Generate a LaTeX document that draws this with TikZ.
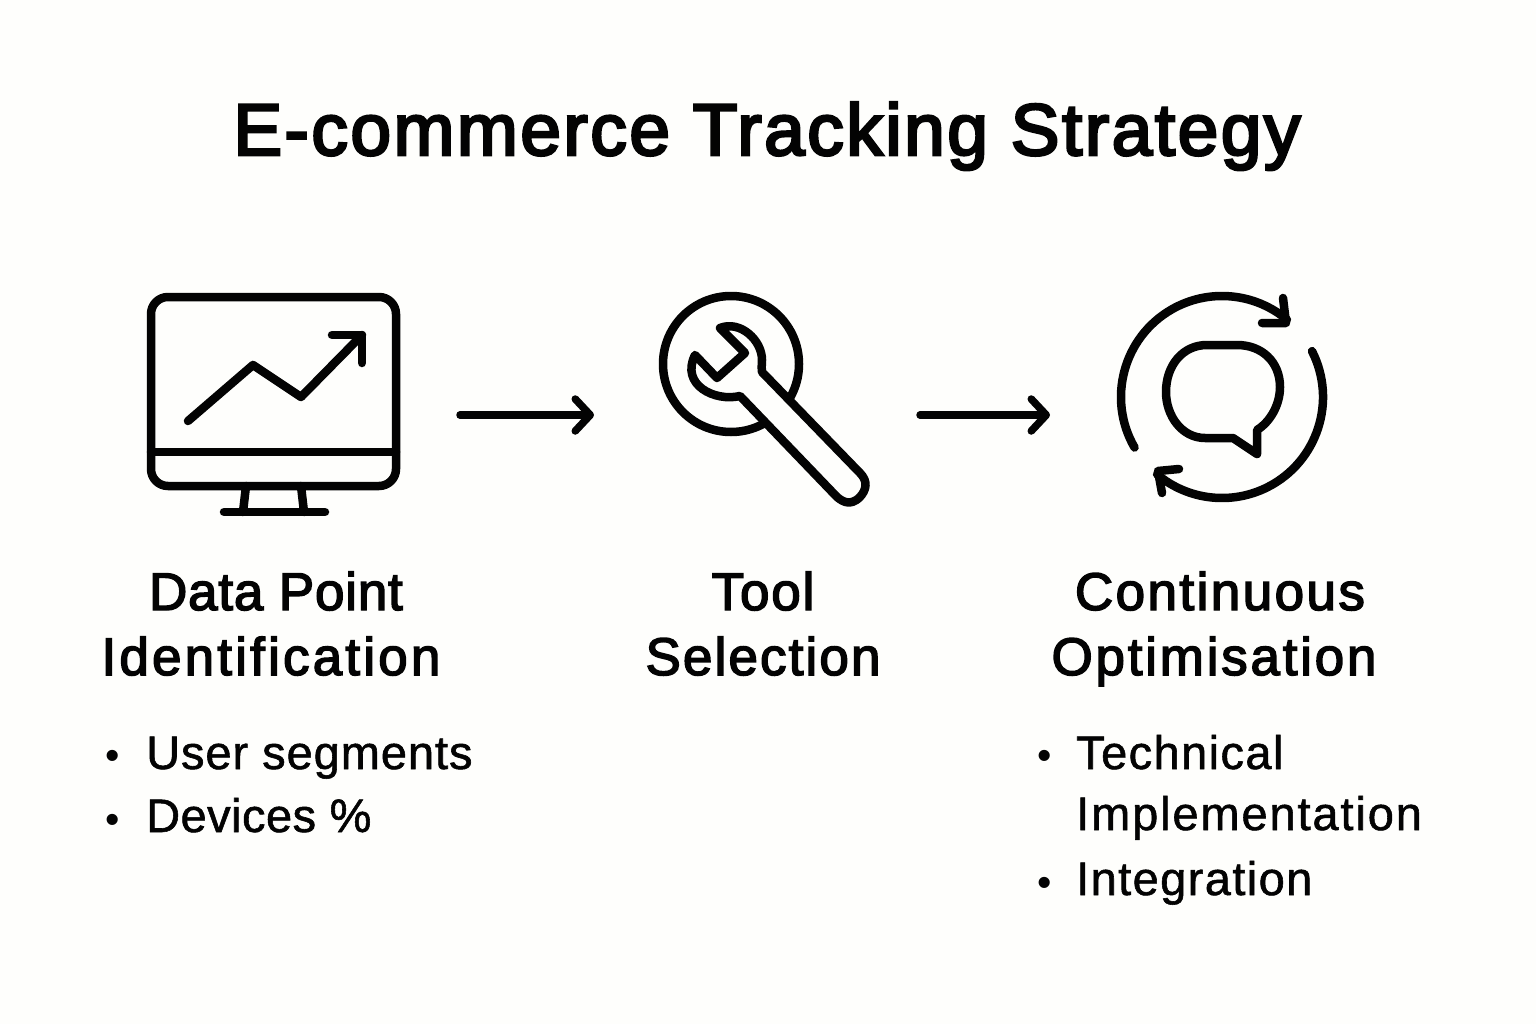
\documentclass[tikz,border=0pt]{standalone}
\usepackage{fontspec}
\usetikzlibrary{arrows.meta}
\setmainfont{Liberation Sans}
\newfontfamily\titlefont[FakeBold=3.6]{Liberation Sans}
\newfontfamily\headfont[FakeBold=2.8]{Liberation Sans}
\newfontfamily\bodyfont[FakeBold=1.2]{Liberation Sans}
\definecolor{bgc}{HTML}{FEFEFC}
\definecolor{ink}{HTML}{030303}
\tikzset{
  icon/.style={draw=ink,line width=8.5pt,line cap=round,line join=round},
  flowarrow/.style={draw=ink,line width=7.5pt,line cap=round,-{Straight Barb[length=15pt,width=32pt,round]}},
  titletext/.style={anchor=base,inner sep=0,text=ink,font=\titlefont\fontsize{73}{73}\selectfont},
  headtext/.style={anchor=base,inner sep=0,text=ink,font=\headfont\fontsize{53}{53}\selectfont},
  bodytext/.style={anchor=base west,inner sep=0,text=ink,font=\bodyfont\fontsize{47}{47}\selectfont},
  bullettext/.style={anchor=base,inner sep=0,text=ink,font=\fontsize{41}{41}\selectfont}
}
\begin{document}
\begin{tikzpicture}[x=1pt,y=-1pt]
\fill[bgc] (0,0) rectangle (1536,1024);
\useasboundingbox (0,0) rectangle (1536,1024);
% title
\node[titletext] (title) at (767,155) {\addfontfeatures{LetterSpace=3.5}E-commerce Tracking Strategy};
% monitor
\draw[icon,rounded corners=17pt] (151,297) rectangle (396,486);
\draw[icon] (151,452) -- (396,452);
\draw[icon] (246,486) -- (243,512);
\draw[icon] (301,486) -- (304,512);
\draw[icon] (224,512) -- (325,512);
\draw[icon] (188,421) -- (253,365) -- (301,397) -- (362,335);
\draw[icon] (332,335) -- (362,335) -- (362,363);
% arrows
\coordinate (a1s) at (460,415);
\coordinate (a1e) at (594,415);
\coordinate (a2s) at (920,415);
\coordinate (a2e) at (1050,415);
\draw[flowarrow] (a1s) -- (a1e);
\draw[flowarrow] (a2s) -- (a2e);
% wrench
\draw[icon] (731,364) circle (68);
\draw[icon,fill=bgc]
  (720,328) .. controls (740,320) and (762,340) .. (762,360) .. controls (762,366) and (761,369) .. (762,372)
  -- (860,473) .. controls (868,481) and (867,490) .. (859,498) .. controls (851,505) and (844,503) .. (837,497)
  -- (740,396) .. controls (715,402) and (680,385) .. (695,355)
  -- (717,378) -- (745,353) -- cycle;
% cycle
\draw[icon] ([shift={(1222,397)}]150:101) arc[start angle=150,end angle=310,radius=101];
\draw[icon] (1283,298) -- (1286,323) -- (1262,323);
\draw[icon] ([shift={(1222,397)}]-27:101) arc[start angle=-27,end angle=130,radius=101];
\draw[icon] (1179,469) -- (1158,471) -- (1162,493);
\draw[icon]
  (1207,345) -- (1237,345) .. controls (1262,345) and (1280,362) .. (1280,387)
  .. controls (1280,405) and (1270,422) .. (1257,430) -- (1257,454) -- (1233,438) -- (1205,438)
  .. controls (1182,438) and (1166,416) .. (1166,392) .. controls (1166,365) and (1183,345) .. (1207,345) -- cycle;
% headings
\node[headtext] (h1a) at (276,610) {\addfontfeatures{LetterSpace=1.5}Data Point};
\node[headtext] (h1b) at (271,675) {\addfontfeatures{LetterSpace=6}Identification};
\node[headtext] (h2a) at (763,610) {\addfontfeatures{LetterSpace=3.5}Tool};
\node[headtext] (h2b) at (763,675) {\addfontfeatures{LetterSpace=4}Selection};
\node[headtext] (h3a) at (1220,610) {\addfontfeatures{LetterSpace=4.6}Continuous};
\node[headtext] (h3b) at (1214,675) {\addfontfeatures{LetterSpace=5.2}Optimisation};
% lists
\node[bullettext] (b1) at (113,769) {•};
\node[bodytext] (t1) at (146,769) {\addfontfeatures{LetterSpace=2}User segments};
\node[bullettext] (b2) at (113,833) {•};
\node[bodytext] (t2) at (146,832) {\addfontfeatures{LetterSpace=1}Devices \%};
\node[bullettext] (b3) at (1045,769) {•};
\node[bodytext] (t3) at (1076,769) {\addfontfeatures{LetterSpace=3}Technical};
\node[bodytext] (t4) at (1076,830) {\addfontfeatures{LetterSpace=4}Implementation};
\node[bullettext] (b4) at (1045,896) {•};
\node[bodytext] (t5) at (1076,895) {\addfontfeatures{LetterSpace=3}Integration};
\end{tikzpicture}
\end{document}
